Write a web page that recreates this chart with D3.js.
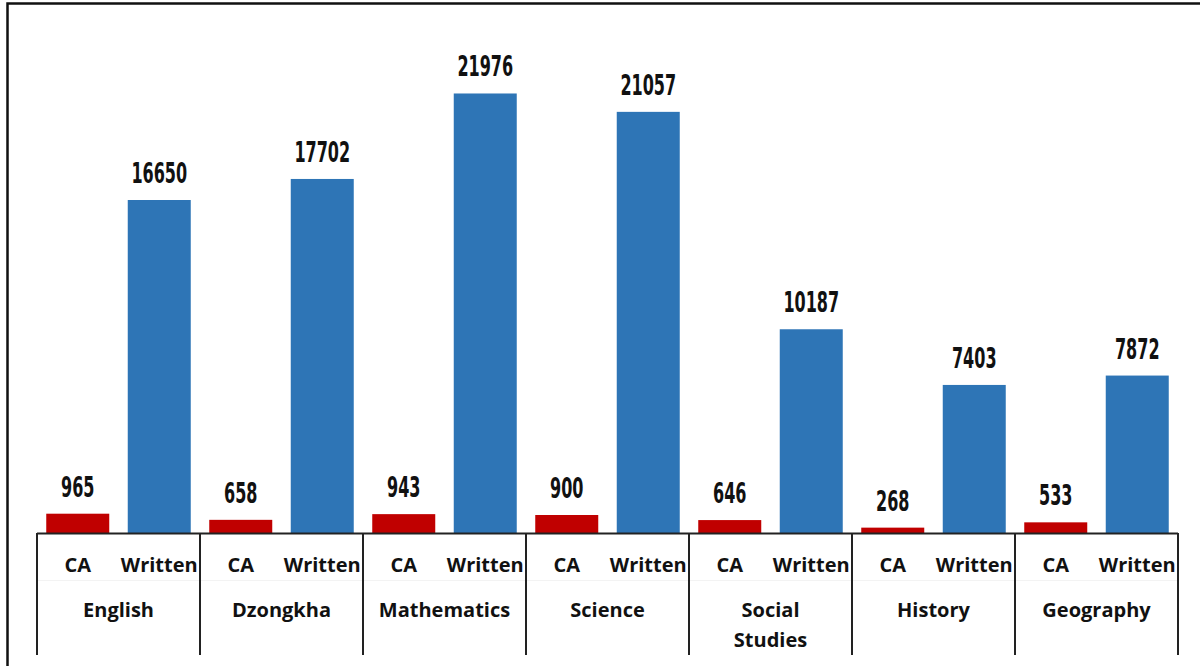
<!DOCTYPE html>
<html>
<head>
  <meta charset="utf-8">
  <title>CA vs Written</title>
  <script src="https://cdn.jsdelivr.net/npm/d3@7"></script>
  <style>
    body { margin: 0; background: #fff; }
    .val { font-family: "DejaVu Sans Condensed", "Liberation Sans Narrow", sans-serif; font-weight: bold; font-size: 27px; fill: #111; }
    .cat { font-family: "Open Sans", "Noto Sans", sans-serif; font-weight: bold; font-size: 20px; fill: #111; }
  </style>
</head>
<body>
<script>
  var subjects = ["English", "Dzongkha", "Mathematics", "Science", "Social Studies", "History", "Geography"];
  var types = ["CA", "Written"];
  var caValues = [965, 658, 943, 900, 646, 268, 533];
  var writtenValues = [16650, 17702, 21976, 21057, 10187, 7403, 7872];
  var colors = ["#C00000", "#2E75B6"];

  var width = 1200, height = 666;
  var baseY = 533;

  var svg = d3.select("body").append("svg")
    .attr("width", width)
    .attr("height", height);

  // outer frame (cut off at right and bottom)
  svg.append("path")
    .attr("d", "M7.5,670 V3.5 H1205")
    .attr("fill", "none")
    .attr("stroke", "#111")
    .attr("stroke-width", 2.5);

  var x0 = d3.scaleBand().domain(subjects).range([37, 1178]).padding(0);
  var x1 = d3.scaleBand().domain(types).range([0, x0.bandwidth()]).paddingInner(0.227).paddingOuter(0.1135);
  var y = d3.scaleLinear().domain([0, 25000]).range([baseY, 33]);

  var rows = [];
  subjects.forEach(function(s, i) {
    rows.push({ subject: s, type: "CA", value: caValues[i] });
    rows.push({ subject: s, type: "Written", value: writtenValues[i] });
  });

  svg.selectAll("rect.bar")
    .data(rows)
    .enter()
    .append("rect")
    .attr("class", "bar")
    .attr("x", function(d) { return x0(d.subject) + x1(d.type); })
    .attr("y", function(d) { return y(d.value); })
    .attr("width", x1.bandwidth())
    .attr("height", function(d) { return baseY - y(d.value); })
    .attr("fill", function(d) { return d.type == "CA" ? colors[0] : colors[1]; });

  // value labels (narrow font look)
  svg.selectAll("text.val")
    .data(rows)
    .enter()
    .append("text")
    .attr("class", "val")
    .attr("text-anchor", "middle")
    .attr("transform", function(d) {
      var cx = x0(d.subject) + x1(d.type) + x1.bandwidth() / 2;
      return "translate(" + cx + "," + (y(d.value) - 17) + ") scale(0.66,1.02)";
    })
    .text(function(d) { return d.value; });

  // axis line
  svg.append("line")
    .attr("x1", 37).attr("x2", 1178)
    .attr("y1", baseY + 0.5).attr("y2", baseY + 0.5)
    .attr("stroke", "#222").attr("stroke-width", 2);

  // faint row divider
  svg.append("line")
    .attr("x1", 37).attr("x2", 1178)
    .attr("y1", 580.5).attr("y2", 580.5)
    .attr("stroke", "#f3f3f3").attr("stroke-width", 1);

  // group separators
  var seps = subjects.map(function(s) { return x0(s); }).concat([x0.range()[1]]);
  svg.selectAll("line.sep")
    .data(seps)
    .enter()
    .append("line")
    .attr("class", "sep")
    .attr("x1", function(d) { return d; })
    .attr("x2", function(d) { return d; })
    .attr("y1", baseY)
    .attr("y2", 655)
    .attr("stroke", "#222")
    .attr("stroke-width", 2);

  // type labels
  svg.selectAll("text.type")
    .data(rows)
    .enter()
    .append("text")
    .attr("class", "cat")
    .attr("text-anchor", "middle")
    .attr("x", function(d) { return x0(d.subject) + x1(d.type) + x1.bandwidth() / 2; })
    .attr("y", 572)
    .text(function(d) { return d.type; });

  // subject labels
  subjects.forEach(function(s) {
    var words = s == "Social Studies" ? ["Social", "Studies"] : [s];
    var t = svg.append("text")
      .attr("class", "cat")
      .attr("text-anchor", "middle")
      .attr("x", x0(s) + x0.bandwidth() / 2)
      .attr("y", 617);
    words.forEach(function(w, j) {
      t.append("tspan")
        .attr("x", x0(s) + x0.bandwidth() / 2)
        .attr("dy", j == 0 ? 0 : 30)
        .text(w);
    });
  });
</script>
</body>
</html>
